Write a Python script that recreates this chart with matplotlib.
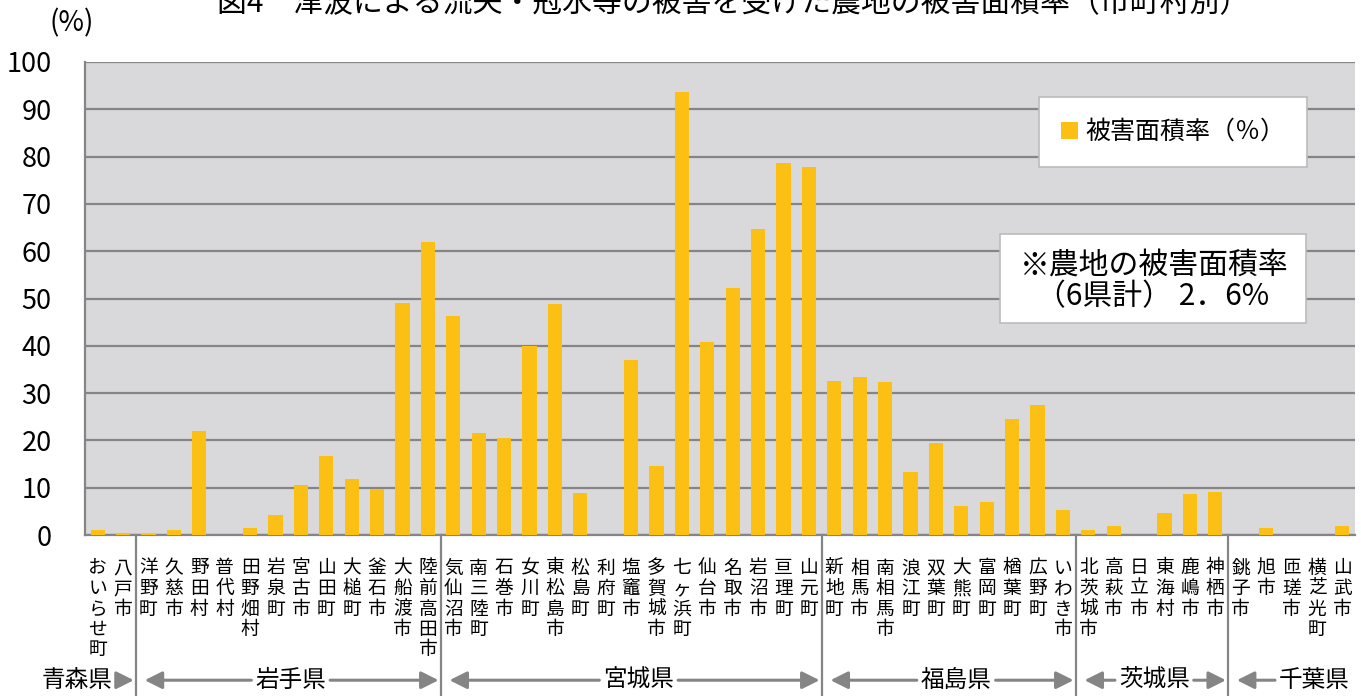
import matplotlib.pyplot as plt
from matplotlib.transforms import blended_transform_factory
from matplotlib.patches import Rectangle

plt.rcParams['font.family'] = ['Noto Sans CJK JP', 'DejaVu Sans']

# 市町村と被害面積率（%）
towns = ['おいらせ町', '八戸市',
         '洋野町', '久慈市', '野田村', '普代村', '田野畑村', '岩泉町', '宮古市',
         '山田町', '大槌町', '釜石市', '大船渡市', '陸前高田市',
         '気仙沼市', '南三陸町', '石巻市', '女川町', '東松島市', '松島町', '利府町',
         '塩竈市', '多賀城市', '七ヶ浜町', '仙台市', '名取市', '岩沼市', '亘理町', '山元町',
         '新地町', '相馬市', '南相馬市', '浪江町', '双葉町', '大熊町', '富岡町',
         '楢葉町', '広野町', 'いわき市',
         '北茨城市', '高萩市', '日立市', '東海村', '鹿嶋市', '神栖市',
         '銚子市', '旭市', '匝瑳市', '横芝光町', '山武市']
rates = [1.1, 0.5,
         0.15, 1.0, 22.0, 0.0, 1.4, 4.2, 10.6, 16.8, 11.8, 9.7, 49.1, 62.0,
         46.4, 21.6, 20.6, 40.0, 48.8, 8.8, 0.0, 37.0, 14.5, 93.6, 40.8, 52.2,
         64.6, 78.6, 77.9,
         32.6, 33.5, 32.4, 13.4, 19.4, 6.1, 7.0, 24.6, 27.4, 5.2,
         1.0, 2.0, 0.0, 4.7, 8.7, 9.1,
         0.0, 1.5, 0.0, 0.0, 1.9]
prefectures = ['青森県', '岩手県', '宮城県', '福島県', '茨城県', '千葉県']
group_sizes = [2, 12, 15, 10, 6, 5]
pref_label_x = [-0.81, 7.6, 21.3, 33.8, 41.6, 47.9]

W, H = 1361, 696
bar_color = '#FBC013'
gray = '#858585'

fig = plt.figure(figsize=(W / 100, H / 100), dpi=100)
ax = fig.add_axes([85 / W, 1 - 535 / H, 1270 / W, 473 / H])
ax.set_facecolor('#D9D9DB')

xs = list(range(len(towns)))
ax.bar(xs, rates, width=0.56, color=bar_color, label='被害面積率（％）', zorder=3)

ax.set_xlim(-0.5, len(towns) - 0.5)
ax.set_ylim(0, 100)
ax.set_yticks(range(0, 101, 10))
ax.tick_params(axis='y', labelsize=19.5, length=0, pad=24)
ax.set_xticks([])
ax.grid(axis='y', color=gray, linewidth=1.6, zorder=1)
for side in ['top', 'right']:
    ax.spines[side].set_visible(False)
for side in ['left', 'bottom']:
    ax.spines[side].set_color(gray)
    ax.spines[side].set_linewidth(1.6)

trans = blended_transform_factory(ax.transData, ax.transAxes)

# 縦書きの市町村名（1文字ずつ）
for x, name in zip(xs, towns):
    for j, ch in enumerate(name):
        ax.annotate(ch, xy=(x, 0), xycoords=trans,
                    xytext=(0, -(33 + 20.5 * j)), textcoords='offset pixels',
                    ha='center', va='center', fontsize=13.5)

# 県の区切り線と県名・矢印
bounds = [-0.5]
for n in group_sizes:
    bounds.append(bounds[-1] + n)
for b in bounds[1:-1]:
    ax.plot([b, b], [0, -0.345], transform=trans, color=gray, linewidth=1.6,
            clip_on=False)

arrow_y = -0.307
for i, (pref, lx) in enumerate(zip(prefectures, pref_label_x)):
    ax.text(lx, arrow_y, pref, transform=trans, ha='center', va='center', fontsize=17)
    aprops = dict(arrowstyle='-|>,head_length=0.7,head_width=0.35', color=gray,
                  lw=2.2, mutation_scale=15, shrinkA=0, shrinkB=0)
    if i > 0:
        ax.annotate('', xy=(bounds[i] + 0.35, arrow_y), xytext=(lx - 1.55, arrow_y),
                    xycoords=trans, textcoords=trans, arrowprops=aprops)
    if i < len(prefectures) - 1:
        ax.annotate('', xy=(bounds[i + 1] - 0.08, arrow_y), xytext=(lx + 1.55, arrow_y),
                    xycoords=trans, textcoords=trans, arrowprops=aprops)

# 凡例
leg = ax.legend(loc='upper right', bbox_to_anchor=(1307 / W, 1 - 97 / H),
                bbox_transform=fig.transFigure, fontsize=18, frameon=True,
                fancybox=False, handlelength=0.65, handleheight=0.65,
                handletextpad=0.3, borderpad=0.88, borderaxespad=0)
leg.get_frame().set_edgecolor('#BBBBBB')
leg.get_frame().set_linewidth(1.2)
leg.get_frame().set_facecolor('white')
leg.get_frame().set_alpha(1)
leg.set_zorder(5)

# 注記
fig.add_artist(Rectangle((1000 / W, 1 - 323 / H), 306 / W, 89 / H,
                         transform=fig.transFigure, facecolor='white',
                         edgecolor='#BBBBBB', linewidth=1.2, zorder=5))
fig.text(1020 / W, 1 - 265 / H, '※農地の被害面積率', fontsize=21.5, va='center',
         zorder=6)
fig.text(1036 / W, 1 - 297 / H, '（6県計） 2．6%', fontsize=21.5, va='center',
         zorder=6)

fig.text(72 / W, 1 - 23 / H, '(%)', fontsize=20, ha='center', va='center')
fig.text(0.539, 1 - 4 / H, '図4　津波による流失・冠水等の被害を受けた農地の被害面積率（市町村別）',
         fontsize=21.5, ha='center', va='center')

fig.savefig('out.png', dpi=100)
